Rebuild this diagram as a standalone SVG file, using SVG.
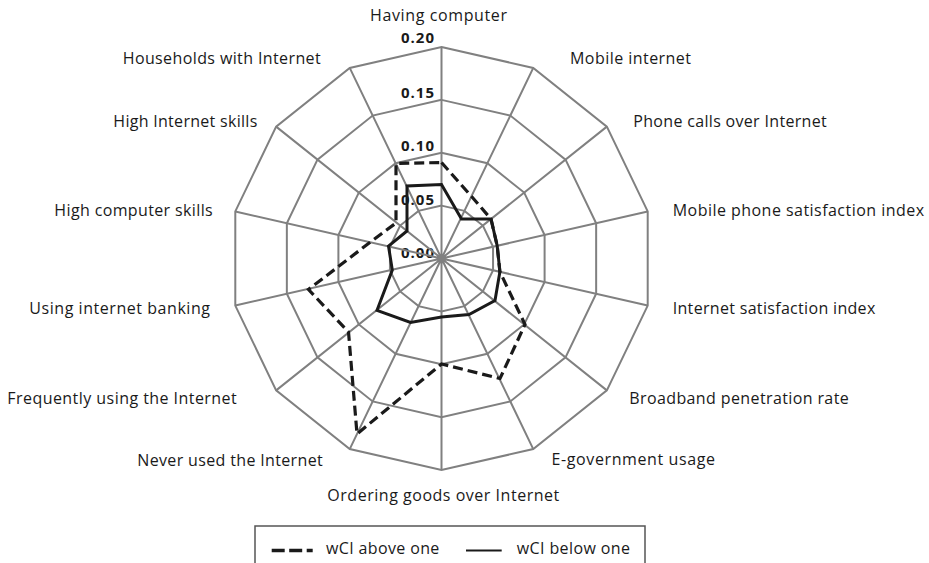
<svg xmlns="http://www.w3.org/2000/svg" width="929" height="563" viewBox="0 0 929 563">
<style>
  .lbl { font-family: "Open Sans", "Liberation Sans", sans-serif; font-size: 16px; fill: #1a1a1a; }
  .tick { font-family: "Open Sans", "Liberation Sans", sans-serif; font-size: 15px; font-weight: bold; fill: #1a1a1a; text-anchor: end; }
  .grid { fill: none; stroke: #808080; stroke-width: 2; stroke-linejoin: miter; }
  .above { fill: none; stroke: #1a1a1a; stroke-width: 3.2; stroke-dasharray: 10 5; stroke-linejoin: miter; }
  .below { fill: none; stroke: #1a1a1a; stroke-width: 3; stroke-linejoin: miter; }
</style>
<rect width="929" height="563" fill="#ffffff"/>

<g id="tick-labels">
  <text class="tick" x="434" y="43" textLength="33" lengthAdjust="spacing">0.20</text>
  <text class="tick" x="434" y="97.5" textLength="33" lengthAdjust="spacing">0.15</text>
  <text class="tick" x="434" y="151" textLength="33" lengthAdjust="spacing">0.10</text>
  <text class="tick" x="434" y="204.5" textLength="33" lengthAdjust="spacing">0.05</text>
  <text class="tick" x="434" y="257.5" textLength="33" lengthAdjust="spacing">0.00</text>
</g>

<g id="grid">
  <polygon class="grid" points="441.5,205.63 464.44,210.86 482.84,225.53 493.05,246.73 493.05,270.27 482.84,291.47 464.44,306.14 441.5,311.38 418.56,306.14 400.16,291.47 389.95,270.27 389.95,246.73 400.16,225.53 418.56,210.86"/>
  <polygon class="grid" points="441.5,152.75 487.39,163.22 524.18,192.56 544.6,234.97 544.6,282.03 524.18,324.44 487.39,353.78 441.5,364.25 395.61,353.78 358.82,324.44 338.4,282.03 338.4,234.97 358.82,192.56 395.61,163.22"/>
  <polygon class="grid" points="441.5,99.87 510.33,115.58 565.52,159.6 596.15,223.2 596.15,293.8 565.52,357.4 510.33,401.42 441.5,417.13 372.67,401.42 317.48,357.4 286.85,293.8 286.85,223.2 317.48,159.6 372.67,115.58"/>
  <polygon class="grid" points="441.5,47 533.27,67.94 606.86,126.63 647.7,211.44 647.7,305.56 606.86,390.37 533.27,449.06 441.5,470 349.73,449.06 276.14,390.37 235.3,305.56 235.3,211.44 276.14,126.63 349.73,67.94"/>
  <path class="grid" d="M441.5,258.5L441.5,47M441.5,258.5L533.27,67.94M441.5,258.5L606.86,126.63M441.5,258.5L647.7,211.44M441.5,258.5L647.7,305.56M441.5,258.5L606.86,390.37M441.5,258.5L533.27,449.06M441.5,258.5L441.5,470M441.5,258.5L349.73,449.06M441.5,258.5L276.14,390.37M441.5,258.5L235.3,305.56M441.5,258.5L235.3,211.44M441.5,258.5L276.14,126.63M441.5,258.5L349.73,67.94"/>
</g>

<g id="series">
  <polygon id="wci-below-one" class="below" points="441.5,184.5 461.5,219 491,219 497.2,245.8 499.9,271.8 495,300.5 469,314.5 441.5,317 410.5,322.5 377,310.3 392.3,270 388.5,246 407,231 407,186"/>
  <polygon id="wci-above-one" class="above" points="441.5,162.5 471.4,196.3 491,219 497.2,245.8 499.9,271.8 525,324.5 500,378.5 441.5,364 357,434 348.5,332 308.5,289.5 370.2,242.2 396,223 396,163.5"/>
</g>

<g id="axis-labels">
  <text class="lbl" x="370" y="20.5" textLength="137" lengthAdjust="spacing">Having computer</text>
  <text class="lbl" x="570" y="63.5" textLength="121" lengthAdjust="spacing">Mobile internet</text>
  <text class="lbl" x="633.3" y="126.5" textLength="193.4" lengthAdjust="spacing">Phone calls over Internet</text>
  <text class="lbl" x="672.7" y="215.5" textLength="251.3" lengthAdjust="spacing">Mobile phone satisfaction index</text>
  <text class="lbl" x="672.7" y="314" textLength="202.6" lengthAdjust="spacing">Internet satisfaction index</text>
  <text class="lbl" x="629.3" y="404" textLength="219.4" lengthAdjust="spacing">Broadband penetration rate</text>
  <text class="lbl" x="551.5" y="464.5" textLength="163.5" lengthAdjust="spacing">E-government usage</text>
  <text class="lbl" x="327.3" y="500.5" textLength="232" lengthAdjust="spacing">Ordering goods over Internet</text>
  <text class="lbl" x="137.3" y="465.5" textLength="185.4" lengthAdjust="spacing">Never used the Internet</text>
  <text class="lbl" x="7.3" y="404" textLength="229.4" lengthAdjust="spacing">Frequently using the Internet</text>
  <text class="lbl" x="29.3" y="314" textLength="180.7" lengthAdjust="spacing">Using internet banking</text>
  <text class="lbl" x="54.3" y="215.5" textLength="158.4" lengthAdjust="spacing">High computer skills</text>
  <text class="lbl" x="113.3" y="126.5" textLength="144" lengthAdjust="spacing">High Internet skills</text>
  <text class="lbl" x="122.7" y="64" textLength="198" lengthAdjust="spacing">Households with Internet</text>
</g>

<g id="legend">
  <rect x="255" y="526" width="390" height="45" fill="#ffffff" stroke="#555555" stroke-width="1.5"/>
  <line x1="271.7" y1="550.5" x2="312.7" y2="550.5" stroke="#1a1a1a" stroke-width="3.5" stroke-dasharray="13 4.5"/>
  <text class="lbl" x="326" y="554" textLength="113.3" lengthAdjust="spacing">wCI above one</text>
  <line x1="466" y1="550.5" x2="501.7" y2="550.5" stroke="#1a1a1a" stroke-width="2"/>
  <text class="lbl" x="516.7" y="554" textLength="113.3" lengthAdjust="spacing">wCI below one</text>
</g>
</svg>
